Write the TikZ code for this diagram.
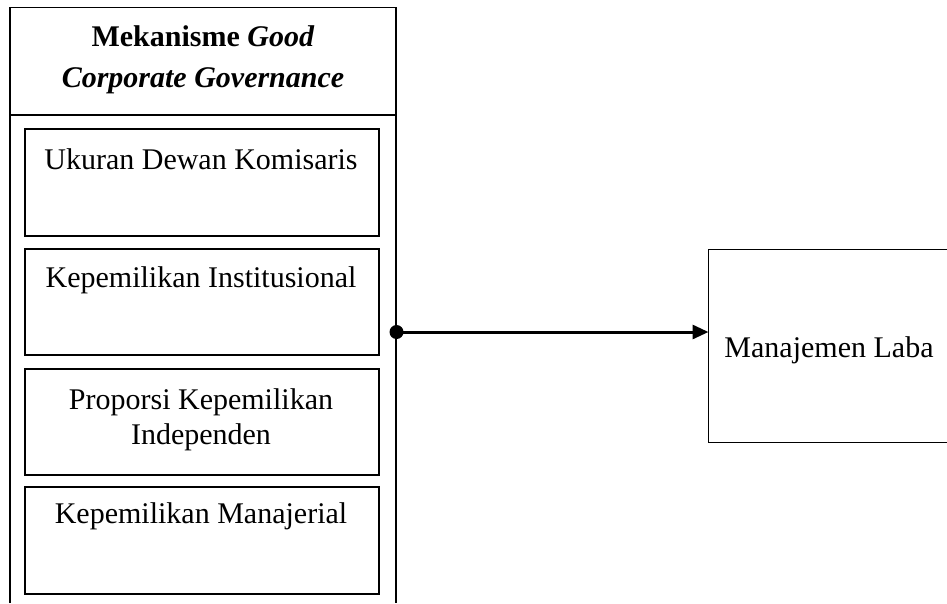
\documentclass[tikz,border=0pt]{standalone}
\usepackage{fontspec}
\setmainfont{Liberation Serif}
\usetikzlibrary{arrows.meta}
\begin{document}
\begin{tikzpicture}[x=1pt,y=-1pt,
  outerline/.style={line width=1.7pt},
  innerbox/.style={draw,line width=2.4pt,minimum width=353.5pt,minimum height=106.5pt,inner sep=0pt,anchor=north west},
  txt/.style={font=\fontsize{30}{35}\selectfont,align=center,inner sep=0pt,anchor=base},
  conn/.style={line width=3pt,-{Triangle[length=16pt,width=14pt]}}]
\useasboundingbox (0,0) rectangle (947,603);
% outer frame
\coordinate (otl) at (10,7.5);
\coordinate (otr) at (396,7.5);
\coordinate (obl) at (10,603);
\coordinate (obr) at (396,603);
\coordinate (hl) at (10,115);
\coordinate (hr) at (396,115);
\draw[outerline] (obl) -- (otl) -- (otr) -- (obr);
\draw[outerline] (hl) -- (hr);
% header text (anchor base = baseline of last line)
\node[txt,font=\fontsize{30}{41}\selectfont] (head) at (203,87) {\textbf{Mekanisme \textit{Good}}\\\textbf{\textit{Corporate Governance}}};
% inner boxes
\node[innerbox] (b1) at (24,128) {};
\node[innerbox] (b2) at (24,247.5) {};
\node[innerbox] (b3) at (24,367.5) {};
\node[innerbox] (b4) at (24,486) {};
\node[txt] (t1) at (201,169) {Ukuran Dewan Komisaris};
\node[txt] (t2) at (201,287) {Kepemilikan Institusional};
\node[txt] (t3) at (201,444) {Proporsi Kepemilikan\\Independen};
\node[txt] (t4) at (201,523) {Kepemilikan Manajerial};
% right box (open to the right)
\node[minimum width=239pt,minimum height=192.5pt,inner sep=0pt,anchor=north west] (ml) at (708.5,249.5) {};
\draw[outerline] (ml.north east) -- (ml.north west) -- (ml.south west) -- (ml.south east);
\node[txt] (tml) at (829,357) {Manajemen Laba};
% connector
\coordinate (src) at (396.5,332);
\fill (src) circle (7pt);
\draw[conn] (src) -- (ml.west |- src);
\end{tikzpicture}
\end{document}
